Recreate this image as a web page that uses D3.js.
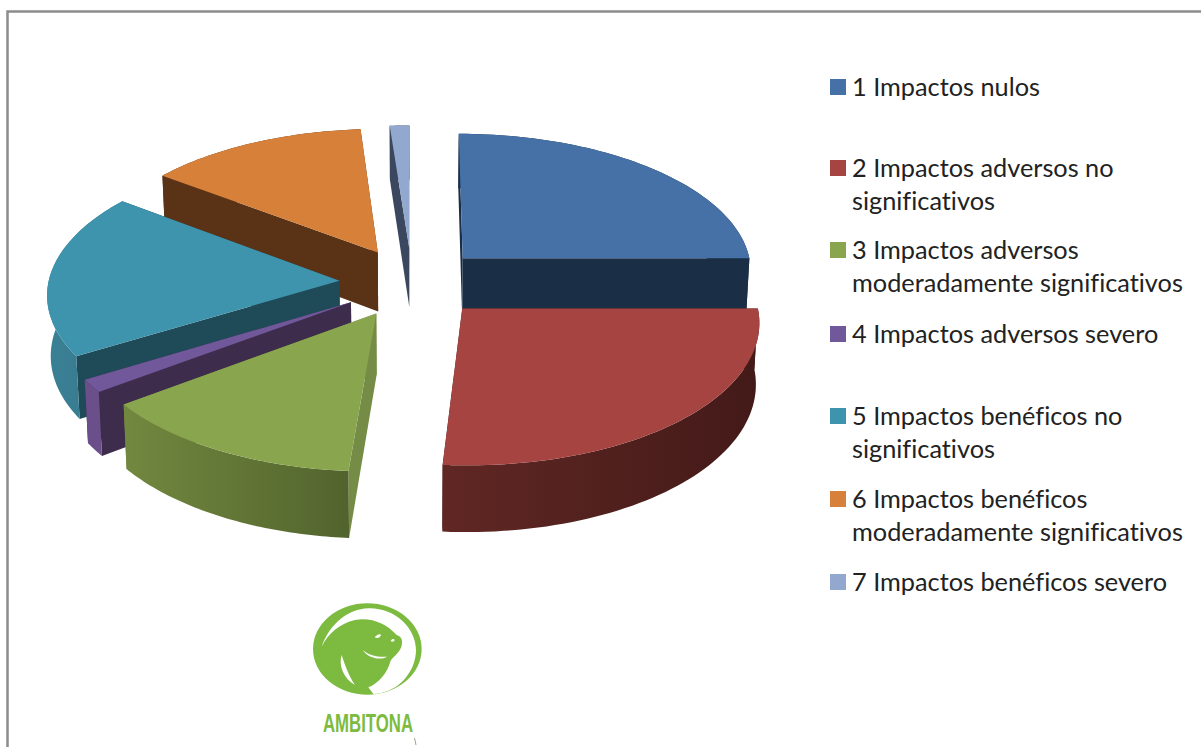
<!DOCTYPE html>
<html>
<head>
<meta charset="utf-8">
<script src="https://cdn.jsdelivr.net/npm/d3@7"></script>
<style>
  html, body { margin: 0; padding: 0; background: #fff; overflow: hidden; }
  svg { display: block; }
</style>
</head>
<body>
<div id="chart"></div>
<script>
var categories = [
  "1 Impactos nulos",
  "2 Impactos adversos no significativos",
  "3 Impactos adversos moderadamente significativos",
  "4 Impactos adversos severo",
  "5 Impactos benéficos no significativos",
  "6 Impactos benéficos moderadamente significativos",
  "7 Impactos benéficos severo"
];
var values = [25, 26.2, 13.6, 1.5, 19, 13.5, 1.2];
var legendLines = [
  ["1 Impactos nulos"],
  ["2 Impactos adversos no", "significativos"],
  ["3 Impactos adversos", "moderadamente significativos"],
  ["4 Impactos adversos severo"],
  ["5 Impactos benéficos no", "significativos"],
  ["6 Impactos benéficos", "moderadamente significativos"],
  ["7 Impactos benéficos severo"]
];
var legendCenters = [87, 168, 250, 334, 416, 499, 582];

var topColors  = ["#4571a7", "#a64441", "#89a64e", "#71589a", "#3f94ad", "#d7803a", "#92a8cf"];
var cutColors  = ["#1a2e46", "#461c19", "#748c45", "#3d2c4b", "#1f4a58", "#5a3316", "#3a475e"];
var wallLeft   = ["#1a2e46", "#602724", "#72883f", "#6a4f8a", "#3a8095", "#5a3316", "#3a475e"];
var wallRight  = ["#1a2e46", "#431a18", "#52642d", "#6a4f8a", "#36788c", "#5a3316", "#3a475e"];

var width = 1201, height = 747
  , explode = 0.25      // radial offset of each slice, pie radius = 1
  , persp = 0.085
  , depth = 60
  , cx = 412, cy = 282.5
  ;

var xScale = d3.scaleLinear().domain([-1, 1]).range([cx - 291, cx + 291])
  , yScale = d3.scaleLinear().domain([-1, 1]).range([cy - 139, cy + 139])
  ;

var svg = d3.select("#chart").append("svg")
  .attr("width", width)
  .attr("height", height);

var defs = svg.append("defs");

// frame
svg.append("path")
  .attr("d", "M7.5,747V11.5H1201")
  .attr("fill", "none")
  .attr("stroke", "#8c8c8c")
  .attr("stroke-width", 2.5);

function project (x, v, down) {
  var w = 1 / (1 - persp * v)
    , sx = xScale(x * w)
    , sy = yScale(v * w)
    ;
  if (down) {
    return [cx + (sx - cx) * 0.99, sy + depth * w];
  }
  return [sx, sy];
}

var pie = d3.pie().sort(null).value(function (d) { return d; })
  , arcs = pie(values)
  , line = d3.line()
  , drawOrder = [0, 6, 5, 4, 3, 2, 1]
  ;

drawOrder.forEach(function (i) {
  var a = arcs[i]
    , mid = (a.startAngle + a.endAngle) / 2
    , ox = explode * Math.sin(mid)
    , ov = -explode * Math.cos(mid)
    , rim = d3.range(0, 61).map(function (k) {
        var t = a.startAngle + (a.endAngle - a.startAngle) * k / 60;
        return [ox + Math.sin(t), ov - Math.cos(t)];
      })
    , rimTop = rim.map(function (p) { return project(p[0], p[1], false); })
    , rimBottom = rim.map(function (p) { return project(p[0], p[1], true); })
    , apexTop = project(ox, ov, false)
    , apexBottom = project(ox, ov, true)
    , g = svg.append("g").attr("class", "slice-" + (i + 1))
    ;

  // cut faces
  [[rimTop[0], rimBottom[0]], [rimTop[60], rimBottom[60]]].forEach(function (e) {
    g.append("path")
      .attr("d", line([apexTop, e[0], e[1], apexBottom]) + "Z")
      .attr("fill", cutColors[i]);
  });

  // outer wall
  var gradId = "wall" + i
    , xs = rimTop.map(function (p) { return p[0]; })
    , grad = defs.append("linearGradient")
        .attr("id", gradId)
        .attr("gradientUnits", "userSpaceOnUse")
        .attr("x1", d3.min(xs)).attr("x2", d3.max(xs))
        .attr("y1", 0).attr("y2", 0)
    ;
  grad.append("stop").attr("offset", 0).attr("stop-color", wallLeft[i]);
  grad.append("stop").attr("offset", 1).attr("stop-color", wallRight[i]);

  g.append("path")
    .attr("d", line(rimTop.concat(rimBottom.slice().reverse())) + "Z")
    .attr("fill", "url(#" + gradId + ")");

  // top face
  g.append("path")
    .attr("d", line([apexTop].concat(rimTop)) + "Z")
    .attr("fill", topColors[i]);
});

// legend
var legend = svg.append("g")
  .attr("font-family", "Lato, 'Noto Sans', sans-serif")
  .attr("font-size", 25.3)
  .style("font-variant-ligatures", "none")
  .attr("fill", "#222");

legendLines.forEach(function (lines, i) {
  var c = legendCenters[i];
  legend.append("rect")
    .attr("x", 830).attr("y", c - 8)
    .attr("width", 16).attr("height", 16)
    .attr("fill", topColors[i]);
  lines.forEach(function (t, j) {
    legend.append("text")
      .attr("x", 852)
      .attr("y", c + 9 + j * 33)
      .text(t);
  });
});

// logo, drawn in zoomed-crop units
var logo = svg.append("g").attr("transform", "translate(290,590) scale(0.3333)");
var logoGreen = "#7cbb40";

logo.append("ellipse")
  .attr("cx", 232).attr("cy", 177)
  .attr("rx", 163).attr("ry", 137)
  .attr("fill", logoGreen);

[
  "M95,170C120,100 175,57 235,55C315,53 378,115 378,180C378,235 340,285 295,302C280,308 262,312 250,312L235,292C265,280 292,250 302,212C310,200 335,185 336,160C338,145 330,138 320,135C290,100 240,80 195,90C150,100 115,130 95,170Z",
  "M155,195C145,225 160,265 195,285C175,255 165,225 155,195Z",
  "M218,180C235,205 270,212 292,200C265,202 240,198 218,180Z",
  "M254,142C262,132 272,130 273,136C270,143 262,146 254,142Z",
  "M302,152C306,146 312,146 314,150C312,156 306,157 302,152Z"
].forEach(function (d) {
  logo.append("path").attr("d", d).attr("fill", "#fff");
});

svg.append("text")
  .attr("x", 323).attr("y", 732)
  .attr("font-family", "'Liberation Sans Narrow', 'Liberation Sans', sans-serif")
  .attr("font-weight", "bold")
  .attr("font-size", 25)
  .attr("textLength", 90)
  .attr("lengthAdjust", "spacingAndGlyphs")
  .attr("fill", logoGreen)
  .text("AMBITONA");

// stray mark under the logo
svg.append("path")
  .attr("d", "M414.5,738L416,745")
  .attr("stroke", "#9aa58a")
  .attr("stroke-width", 1)
  .attr("fill", "none");
</script>
</body>
</html>
